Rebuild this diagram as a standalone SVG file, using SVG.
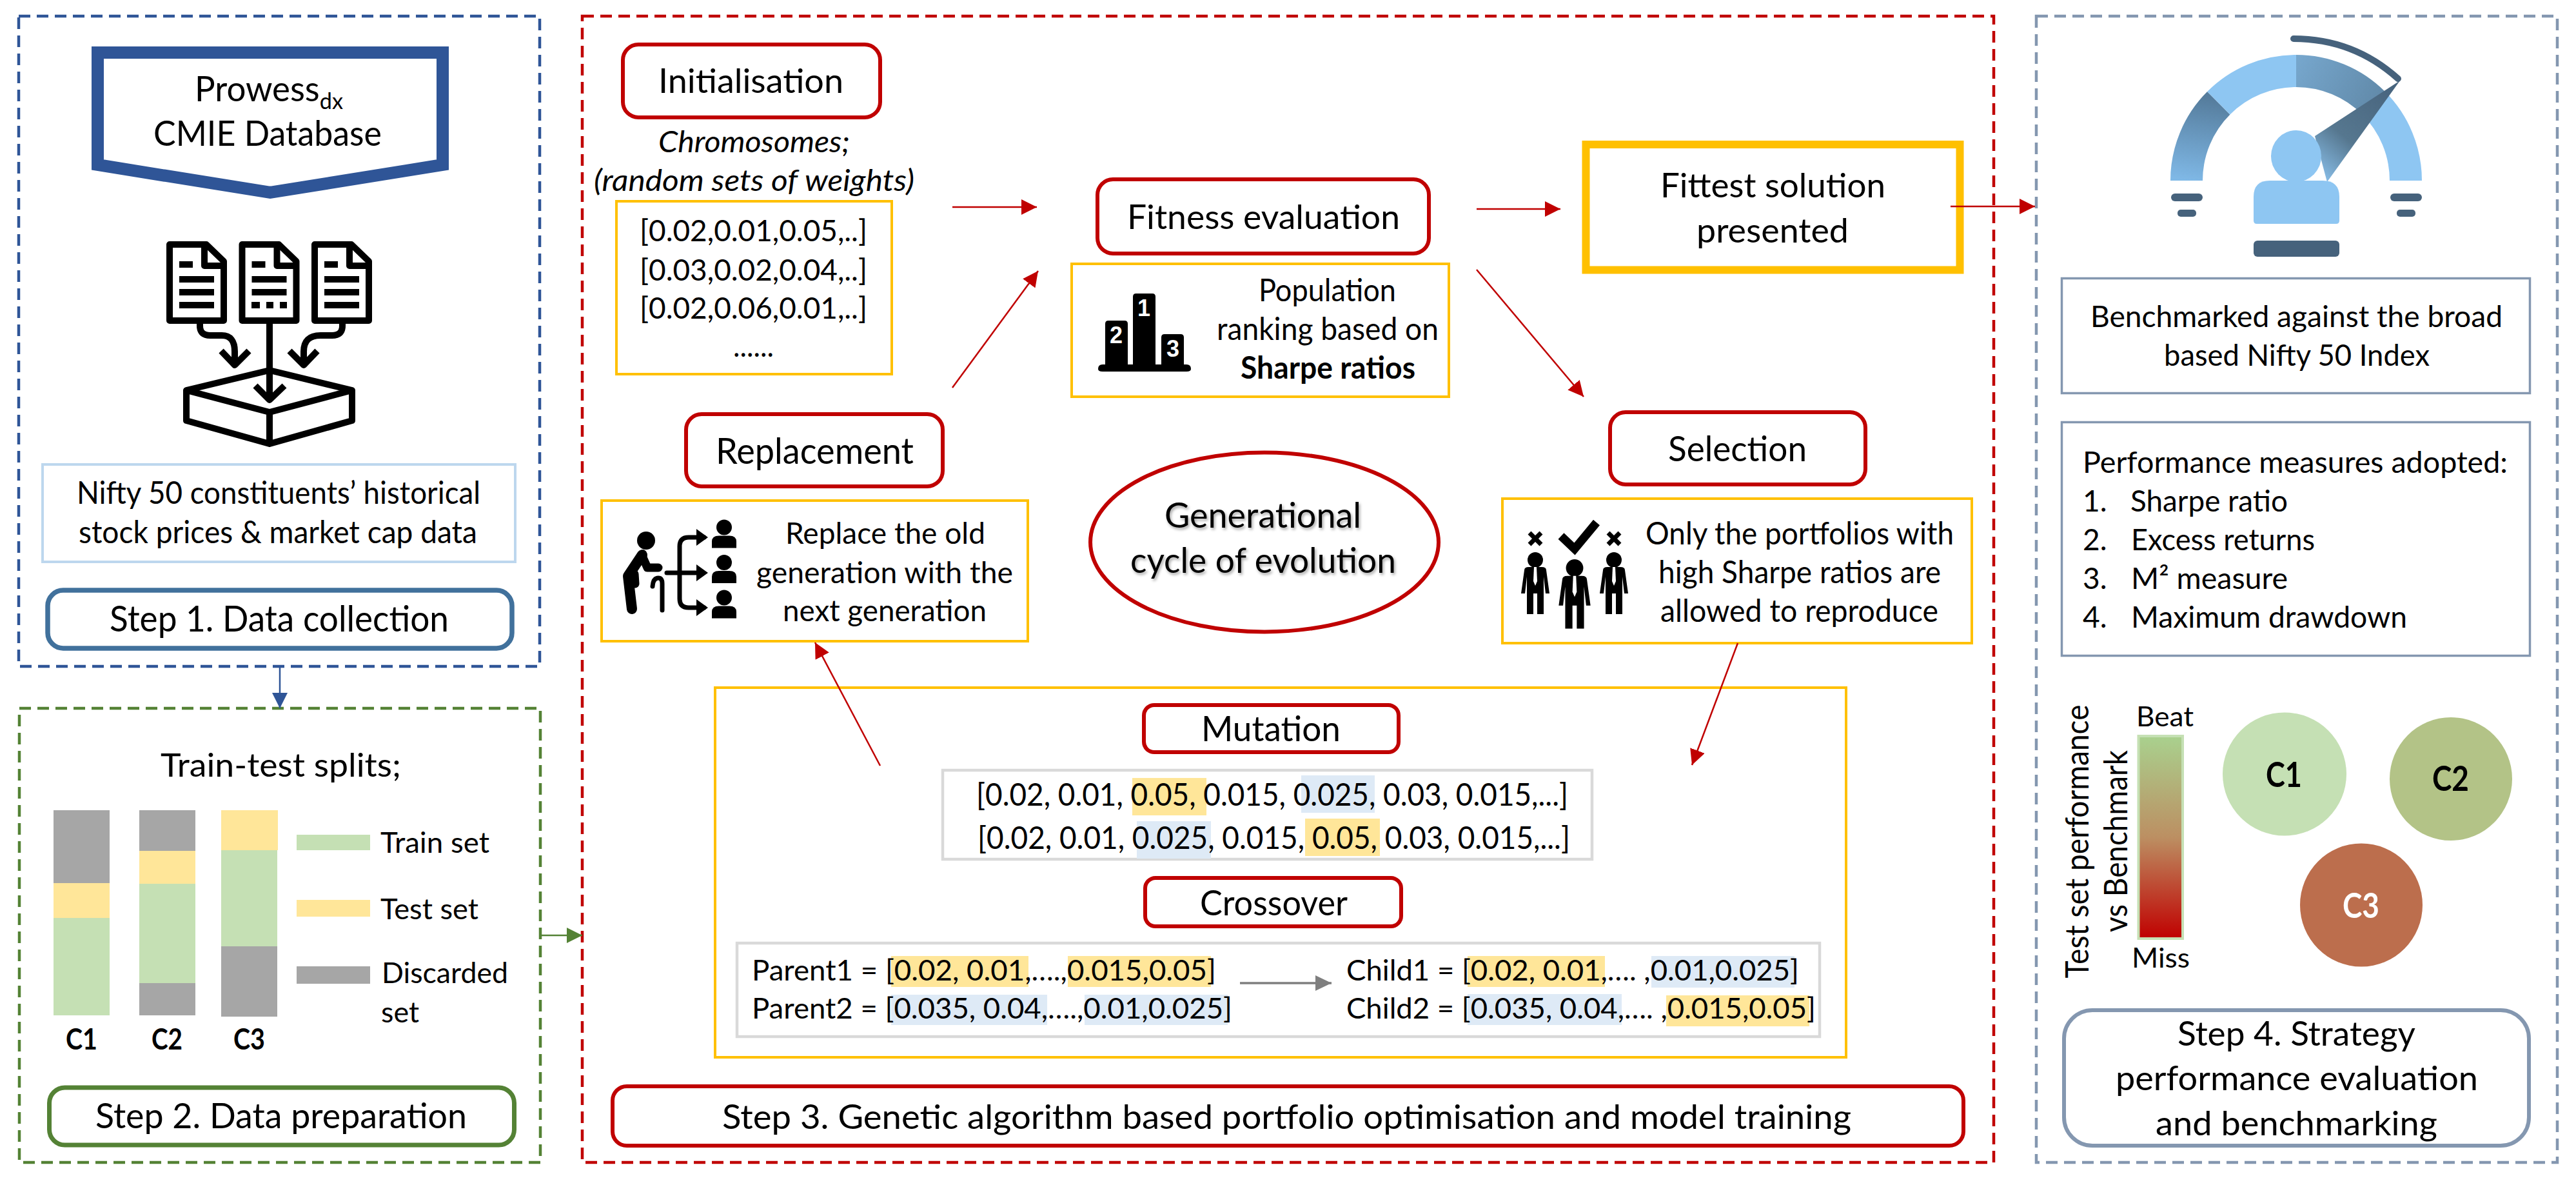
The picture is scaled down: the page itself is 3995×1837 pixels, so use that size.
<svg xmlns="http://www.w3.org/2000/svg" xmlns:xlink="http://www.w3.org/1999/xlink" width="3995" height="1837" viewBox="0 0 3995 1837">
<style>
text{font-family:"Lato","Open Sans","Liberation Sans",sans-serif;fill:#000}
.b{font-weight:700}
.i{font-style:italic}
.dash{fill:none;stroke-width:4.5;stroke-dasharray:18 10}
.step{fill:#fff}
.red{fill:#fff;stroke:#C00000;stroke-width:6}
.yb{fill:#fff;stroke:#FFC000;stroke-width:4}
.gb{fill:#fff;stroke:#D9D9D9;stroke-width:4.5}
.ln{fill:none;stroke-width:2.5}
.hy{fill:#FFE699}
.hb{fill:#DEEAF6}
.ic{fill:none;stroke:#000;stroke-width:10;stroke-linejoin:round}
.old{fill:none;stroke:#000;stroke-width:13;stroke-linecap:round;stroke-linejoin:round}
.lt{fill:#8EC6F2}
.dk{fill:#46627C}
</style>
<defs>
<marker id="hr" markerUnits="userSpaceOnUse" markerWidth="24" markerHeight="24" refX="24" refY="12" orient="auto"><path d="M0,0L24,12L0,24Z" fill="#C00000"/></marker>
<marker id="hbl" markerUnits="userSpaceOnUse" markerWidth="24" markerHeight="24" refX="24" refY="12" orient="auto"><path d="M0,0L24,12L0,24Z" fill="#2F5597"/></marker>
<marker id="hg" markerUnits="userSpaceOnUse" markerWidth="24" markerHeight="24" refX="24" refY="12" orient="auto"><path d="M0,0L24,12L0,24Z" fill="#548235"/></marker>
<marker id="hgr" markerUnits="userSpaceOnUse" markerWidth="25" markerHeight="24" refX="25" refY="12" orient="auto"><path d="M0,0L25,12L0,24Z" fill="#7F7F7F"/></marker>
<linearGradient id="bar" x1="0" y1="0" x2="0" y2="1"><stop offset="0" stop-color="#A9D18E"/><stop offset="0.5" stop-color="#BC8F62"/><stop offset="1" stop-color="#C00000"/></linearGradient>
<linearGradient id="gl" gradientUnits="userSpaceOnUse" x1="3420" y1="150" x2="3400" y2="280"><stop offset="0" stop-color="#557C9C"/><stop offset="1" stop-color="#7FB8E6"/></linearGradient>
<linearGradient id="gr" gradientUnits="userSpaceOnUse" x1="3561" y1="100" x2="3700" y2="170"><stop offset="0" stop-color="#76A6CC"/><stop offset="1" stop-color="#5F87A6"/></linearGradient>
<linearGradient id="gn" gradientUnits="userSpaceOnUse" x1="3722" y1="125" x2="3590" y2="280"><stop offset="0" stop-color="#46627C"/><stop offset="0.6" stop-color="#56778F"/><stop offset="1" stop-color="#8EC6F2"/></linearGradient>
<filter id="sh" x="-5%" y="-20%" width="110%" height="140%"><feDropShadow dx="2" dy="3" stdDeviation="2" flood-color="#000" flood-opacity="0.35"/></filter>
<g id="doc">
<path class="ic" d="M263,379H320L347,405V497H263Z"/>
<path class="ic" d="M317,379V412H347"/>
<path d="M278,405h21v10h-21zM278,428h54v10h-54zM278,448h54v10h-54z"/>
</g>
<g id="man">
<circle cx="0" cy="-38" r="12"/>
<path d="M-17,-22Q-17,-27 -10,-27H10Q17,-27 17,-22L22,14H16L13,-12V46H3V14H-3V46H-13V-12L-16,14H-22Z"/>
<path d="M-2,-27H2L3,-5L0,2L-3,-5Z" fill="#fff"/>
</g>
<g id="user">
<circle cx="0" cy="0" r="12"/>
<path d="M-19,32V22Q-19,13 -8,13H8Q19,13 19,22V32Z"/>
</g>
</defs>
<rect width="3995" height="1837" fill="#fff"/>

<g id="panel-frames">
<rect class="dash" x="29" y="25" width="808" height="1008" stroke="#2F5597"/>
<rect class="dash" x="30" y="1098" width="808" height="704" stroke="#548235"/>
<rect class="dash" x="903" y="25" width="2189" height="1777" stroke="#C00000"/>
<rect class="dash" x="3158" y="25" width="808" height="1777" stroke="#8497B0"/>
</g>

<g id="node-prowess">
<path d="M151.5,81.5H686.5V255.5L419,298.5L151.5,255.5Z" fill="#fff" stroke="#2F5597" stroke-width="19"/>
<text x="302" y="157" font-size="54" textLength="230" lengthAdjust="spacingAndGlyphs">Prowess<tspan dy="12" font-size="35">dx</tspan></text>
<text x="238" y="226" font-size="54" textLength="354" lengthAdjust="spacingAndGlyphs">CMIE Database</text>
</g>
<g id="icon-documents">
<use href="#doc"/>
<rect x="278" y="468" width="54" height="10"/>
<use href="#doc" x="112.5"/>
<path d="M390,468h13v10h-13zM413,468h11v10h-11zM434,468h11v10h-11z"/>
<use href="#doc" x="225"/>
<rect x="503" y="468" width="54" height="10"/>
<path class="ic" d="M310,502V505Q310,520 326,520H344Q364,520 364,545V566"/>
<path class="ic" d="M343,544L364,566L386,544"/>
<path class="ic" d="M531,502V505Q531,520 515,520H497Q471,520 471,545V566"/>
<path class="ic" d="M449,544L471,566L492,544"/>
<path class="ic" d="M418,502V620"/>
<path class="ic" d="M396,598L418,620L441,598"/>
<path class="ic" d="M418,574L546,605L418,639L289,605Z"/>
<path class="ic" d="M289,605V652L418,688L546,652V605M418,639V688"/>
</g>
<g id="node-nifty">
<rect x="66" y="720" width="733" height="151" fill="#fff" stroke="#BDD7EE" stroke-width="4"/>
<text x="119" y="781" font-size="49" textLength="626" lengthAdjust="spacingAndGlyphs">Nifty 50 constituents’ historical</text>
<text x="122" y="842" font-size="49" textLength="618" lengthAdjust="spacingAndGlyphs">stock prices &amp; market cap data</text>
</g>
<g id="node-step1">
<rect class="step" x="74" y="915" width="720" height="90" rx="24" stroke="#41719C" stroke-width="7.5"/>
<text x="170" y="979" font-size="56" textLength="526" lengthAdjust="spacingAndGlyphs">Step 1. Data collection</text>
</g>

<g id="node-splits">
<text x="249" y="1204" font-size="51" textLength="373" lengthAdjust="spacingAndGlyphs">Train-test splits;</text>
<rect x="83" y="1256" width="87" height="113" fill="#A6A6A6"/><rect x="83" y="1369" width="87" height="54" fill="#FFE699"/><rect x="83" y="1423" width="87" height="151" fill="#C5E0B4"/>
<rect x="216" y="1256" width="87" height="63" fill="#A6A6A6"/><rect x="216" y="1319" width="87" height="51" fill="#FFE699"/><rect x="216" y="1370" width="87" height="154" fill="#C5E0B4"/><rect x="216" y="1524" width="87" height="50" fill="#A6A6A6"/>
<rect x="343" y="1256" width="88" height="62" fill="#FFE699"/><rect x="343" y="1318" width="87" height="149" fill="#C5E0B4"/><rect x="343" y="1467" width="87" height="109" fill="#A6A6A6"/>
<rect x="460" y="1294" width="114" height="24" fill="#C5E0B4"/><rect x="460" y="1395" width="114" height="26" fill="#FFE699"/><rect x="460" y="1498" width="114" height="27" fill="#A6A6A6"/>
<text x="590" y="1322" font-size="44" textLength="169" lengthAdjust="spacingAndGlyphs">Train set</text>
<text x="590" y="1425" font-size="44" textLength="152" lengthAdjust="spacingAndGlyphs">Test set</text>
<text x="592" y="1524" font-size="44" textLength="196" lengthAdjust="spacingAndGlyphs">Discarded</text>
<text x="591" y="1585" font-size="44" textLength="59" lengthAdjust="spacingAndGlyphs">set</text>
<text class="b" x="102" y="1627" font-size="46" textLength="49" lengthAdjust="spacingAndGlyphs">C1</text>
<text class="b" x="235" y="1627" font-size="46" textLength="48" lengthAdjust="spacingAndGlyphs">C2</text>
<text class="b" x="362" y="1627" font-size="46" textLength="49" lengthAdjust="spacingAndGlyphs">C3</text>
</g>
<g id="node-step2">
<rect class="step" x="76.5" y="1686" width="721" height="89" rx="24" stroke="#548235" stroke-width="7"/>
<text x="148" y="1749" font-size="54" textLength="576" lengthAdjust="spacingAndGlyphs">Step 2. Data preparation</text>
</g>

<g id="node-initialisation">
<rect class="red" x="966" y="69" width="399" height="113" rx="24"/>
<text x="1021" y="144" font-size="53" textLength="287" lengthAdjust="spacingAndGlyphs">Initialisation</text>
<text class="i" x="1021" y="236" font-size="46" textLength="297" lengthAdjust="spacingAndGlyphs">Chromosomes;</text>
<text class="i" x="921" y="296" font-size="46" textLength="497" lengthAdjust="spacingAndGlyphs">(random sets of weights)</text>
<rect class="yb" x="956" y="312" width="427" height="268"/>
<text x="992" y="374" font-size="47" textLength="353" lengthAdjust="spacingAndGlyphs">[0.02,0.01,0.05,..]</text>
<text x="992" y="435" font-size="47" textLength="353" lengthAdjust="spacingAndGlyphs">[0.03,0.02,0.04,..]</text>
<text x="992" y="494" font-size="47" textLength="353" lengthAdjust="spacingAndGlyphs">[0.02,0.06,0.01,..]</text>
<text x="1137" y="553" font-size="47" textLength="63" lengthAdjust="spacingAndGlyphs">......</text>
</g>
<g id="node-fitness">
<rect class="red" x="1702" y="278" width="514" height="115" rx="24"/>
<text x="1748" y="355" font-size="52" textLength="423" lengthAdjust="spacingAndGlyphs">Fitness evaluation</text>
<rect class="yb" x="1662" y="409" width="585" height="206"/>
<path d="M1703,572Q1703,565 1710,565H1714V502Q1714,497 1719,497H1744Q1749,497 1749,502V565H1757V460Q1757,455 1762,455H1787Q1792,455 1792,460V565H1801V523Q1801,518 1806,518H1831Q1836,518 1836,523V565H1840Q1847,565 1847,572Q1847,576 1840,576H1710Q1703,576 1703,572Z"/>
<text class="b" x="1774" y="490" font-size="36" text-anchor="middle" style="fill:#fff;font-family:'Liberation Sans',sans-serif">1</text>
<text class="b" x="1731" y="532" font-size="36" text-anchor="middle" style="fill:#fff;font-family:'Liberation Sans',sans-serif">2</text>
<text class="b" x="1819" y="553" font-size="36" text-anchor="middle" style="fill:#fff;font-family:'Liberation Sans',sans-serif">3</text>
<text x="1952" y="467" font-size="48" textLength="213" lengthAdjust="spacingAndGlyphs">Population</text>
<text x="1887" y="527" font-size="48" textLength="344" lengthAdjust="spacingAndGlyphs">ranking based on</text>
<text class="b" x="1924" y="587" font-size="48" textLength="271" lengthAdjust="spacingAndGlyphs">Sharpe ratios</text>
</g>
<g id="node-fittest">
<rect x="2459.5" y="224" width="580" height="194.5" fill="#fff" stroke="#FFC000" stroke-width="12"/>
<text x="2575" y="306" font-size="53" textLength="349" lengthAdjust="spacingAndGlyphs">Fittest solution</text>
<text x="2631" y="376" font-size="53" textLength="236" lengthAdjust="spacingAndGlyphs">presented</text>
</g>
<g id="node-replacement">
<rect class="red" x="1064" y="642" width="398" height="112" rx="24"/>
<text x="1110" y="719" font-size="56" textLength="307" lengthAdjust="spacingAndGlyphs">Replacement</text>
<rect class="yb" x="933" y="776" width="661" height="218"/>
<circle cx="1002" cy="838" r="14"/>
<path class="old" style="stroke-width:16" d="M996,860L974,893L980,944"/>
<path class="old" d="M996,862L1004,880H1021M984,890L985,905"/>
<path class="old" style="stroke-width:7" d="M1012,909Q1013,896 1021,896Q1027,896 1027,905V946"/>
<path class="old" style="stroke-width:7" d="M1034,888H1086M1092,833H1068Q1054,833 1054,847V928Q1054,942 1068,942H1092"/>
<path d="M1080,820L1098,833L1080,846ZM1080,875L1098,888L1080,901ZM1080,929L1098,942L1080,955Z"/>
<use href="#user" x="1123" y="817.5"/><use href="#user" x="1123" y="872"/><use href="#user" x="1123" y="926.5"/>
<text x="1218" y="843" font-size="47" textLength="310" lengthAdjust="spacingAndGlyphs">Replace the old</text>
<text x="1173" y="904" font-size="47" textLength="398" lengthAdjust="spacingAndGlyphs">generation with the</text>
<text x="1214" y="963" font-size="47" textLength="316" lengthAdjust="spacingAndGlyphs">next generation</text>
</g>
<g id="node-cycle">
<ellipse cx="1961" cy="840.5" rx="270" ry="139" fill="#fff" stroke="#C00000" stroke-width="6"/>
<text filter="url(#sh)" x="1806" y="818" font-size="54" textLength="305" lengthAdjust="spacingAndGlyphs">Generational</text>
<text filter="url(#sh)" x="1753" y="888" font-size="54" textLength="412" lengthAdjust="spacingAndGlyphs">cycle of evolution</text>
</g>
<g id="node-selection">
<rect class="red" x="2497" y="639" width="396" height="112" rx="24"/>
<text x="2587" y="715" font-size="55" textLength="215" lengthAdjust="spacingAndGlyphs">Selection</text>
<rect class="yb" x="2330" y="773" width="728" height="224"/>
<use href="#man" x="2381" y="906"/>
<use href="#man" transform="translate(2442 923) scale(1.12)"/>
<use href="#man" x="2503" y="906"/>
<path d="M2372,826l9,9l9,-9M2372,844l9,-9l9,9" fill="none" stroke="#000" stroke-width="7"/>
<path d="M2494,826l9,9l9,-9M2494,844l9,-9l9,9" fill="none" stroke="#000" stroke-width="7"/>
<path d="M2421,831L2442,851L2476,810" fill="none" stroke="#000" stroke-width="13"/>
<text x="2552" y="844" font-size="48" textLength="478" lengthAdjust="spacingAndGlyphs">Only the portfolios with</text>
<text x="2572" y="904" font-size="48" textLength="438" lengthAdjust="spacingAndGlyphs">high Sharpe ratios are</text>
<text x="2575" y="964" font-size="48" textLength="431" lengthAdjust="spacingAndGlyphs">allowed to reproduce</text>
</g>
<g id="node-operators">
<rect class="yb" x="1109" y="1066" width="1754" height="573"/>
<rect class="red" x="1774" y="1093" width="395" height="73" rx="16"/>
<text x="1863" y="1149" font-size="54" textLength="216" lengthAdjust="spacingAndGlyphs">Mutation</text>
<rect class="gb" x="1462" y="1194" width="1007" height="138"/>
<rect class="hy" x="1756" y="1206" width="115" height="58"/><rect class="hb" x="2018" y="1202" width="114" height="58"/>
<rect class="hb" x="1763" y="1273" width="115" height="58"/><rect class="hy" x="2024" y="1269" width="116" height="58"/>
<text x="1514" y="1249" font-size="48" textLength="918" lengthAdjust="spacingAndGlyphs">[0.02, 0.01, 0.05, 0.015, 0.025, 0.03, 0.015,...]</text>
<text x="1516" y="1316" font-size="48" textLength="919" lengthAdjust="spacingAndGlyphs">[0.02, 0.01, 0.025, 0.015, 0.05, 0.03, 0.015,...]</text>
<rect class="red" x="1776" y="1361" width="397" height="75" rx="16"/>
<text x="1861" y="1419" font-size="54" textLength="229" lengthAdjust="spacingAndGlyphs">Crossover</text>
<rect class="gb" x="1143" y="1462" width="1679" height="145"/>
<rect class="hy" x="1382" y="1482" width="213" height="48"/><rect class="hy" x="1656" y="1482" width="222" height="48"/>
<rect class="hb" x="1382" y="1542" width="242" height="47"/><rect class="hb" x="1682" y="1542" width="222" height="47"/>
<rect class="hy" x="2276" y="1482" width="213" height="48"/><rect class="hb" x="2561" y="1482" width="222" height="49"/>
<rect class="hb" x="2276" y="1541" width="239" height="48"/><rect class="hy" x="2584" y="1543" width="222" height="48"/>
<text x="1166" y="1520" font-size="45" textLength="720" lengthAdjust="spacingAndGlyphs">Parent1 = [0.02, 0.01,….,0.015,0.05]</text>
<text x="1166" y="1579" font-size="45" textLength="745" lengthAdjust="spacingAndGlyphs">Parent2 = [0.035, 0.04,….,0.01,0.025]</text>
<text x="2088" y="1520" font-size="45" textLength="702" lengthAdjust="spacingAndGlyphs">Child1 = [0.02, 0.01,…. ,0.01,0.025]</text>
<text x="2088" y="1579" font-size="45" textLength="728" lengthAdjust="spacingAndGlyphs">Child2 = [0.035, 0.04,…. ,0.015,0.05]</text>
</g>
<g id="node-step3">
<rect class="red" x="950" y="1684" width="2095" height="92" rx="22"/>
<text x="1120" y="1750" font-size="52" textLength="1751" lengthAdjust="spacingAndGlyphs">Step 3. Genetic algorithm based portfolio optimisation and model training</text>
</g>

<g id="icon-gauge">
<path d="M3391,280A170,170 0 0 1 3440.8,159.8" fill="none" stroke="url(#gl)" stroke-width="50"/>
<path d="M3440.8,159.8A170,170 0 0 1 3561,110" fill="none" stroke="#8EC6F2" stroke-width="50"/>
<path d="M3681.2,159.8A170,170 0 0 1 3731,280" fill="none" stroke="#8EC6F2" stroke-width="50"/>
<path d="M3561,110A170,170 0 0 1 3681.2,159.8" fill="none" stroke="url(#gr)" stroke-width="50"/>
<path d="M3557,60Q3650,60 3719,122" fill="none" stroke="#46627C" stroke-width="10" stroke-linecap="round"/>
<path d="M3722,125L3590,211L3609,282Z" fill="url(#gn)"/>
<ellipse class="lt" cx="3561" cy="242" rx="39" ry="40"/>
<path class="lt" d="M3495,342V305Q3495,280 3520,280H3602Q3628,280 3628,305V342Q3628,347 3623,347H3500Q3495,347 3495,342Z"/>
<rect class="dk" x="3495" y="373" width="133" height="25" rx="6"/>
<rect class="dk" x="3367" y="300" width="49" height="12" rx="6"/><rect class="dk" x="3377" y="325" width="29" height="11" rx="5"/>
<rect class="dk" x="3707" y="300" width="49" height="12" rx="6"/><rect class="dk" x="3717" y="325" width="29" height="11" rx="5"/>
</g>
<g id="node-benchmark">
<rect x="3197.5" y="431.5" width="726" height="178" fill="#fff" stroke="#8497B0" stroke-width="3.5"/>
<text x="3242" y="507" font-size="46" textLength="639" lengthAdjust="spacingAndGlyphs">Benchmarked against the broad</text>
<text x="3356" y="567" font-size="46" textLength="412" lengthAdjust="spacingAndGlyphs">based Nifty 50 Index</text>
</g>
<g id="node-measures">
<rect x="3197.5" y="654.5" width="726" height="362" fill="#fff" stroke="#8497B0" stroke-width="3.5"/>
<text x="3230" y="733" font-size="46" textLength="659" lengthAdjust="spacingAndGlyphs">Performance measures adopted:</text>
<text x="3230" y="793" font-size="46">1.</text><text x="3304" y="793" font-size="46" textLength="244" lengthAdjust="spacingAndGlyphs">Sharpe ratio</text>
<text x="3230" y="853" font-size="46">2.</text><text x="3305" y="853" font-size="46" textLength="285" lengthAdjust="spacingAndGlyphs">Excess returns</text>
<text x="3230" y="913" font-size="46">3.</text><text x="3305" y="913" font-size="46" textLength="243" lengthAdjust="spacingAndGlyphs">M² measure</text>
<text x="3230" y="973" font-size="46">4.</text><text x="3305" y="973" font-size="46" textLength="428" lengthAdjust="spacingAndGlyphs">Maximum drawdown</text>
</g>
<g id="node-legend">
<text transform="translate(3239 1516.5) rotate(-90)" font-size="50" textLength="424" lengthAdjust="spacingAndGlyphs">Test set performance</text>
<text transform="translate(3299 1445) rotate(-90)" font-size="50" textLength="282" lengthAdjust="spacingAndGlyphs">vs Benchmark</text>
<rect x="3316.5" y="1141" width="68.5" height="314" fill="url(#bar)" stroke="#C5E0B4" stroke-width="4"/>
<text x="3313" y="1126" font-size="43" textLength="89" lengthAdjust="spacingAndGlyphs">Beat</text>
<text x="3306" y="1500" font-size="43" textLength="90" lengthAdjust="spacingAndGlyphs">Miss</text>
</g>
<g id="node-c1"><ellipse cx="3543" cy="1200" rx="96" ry="95.5" fill="#C5E0B4"/><text class="b" x="3514" y="1220" font-size="54" textLength="56" lengthAdjust="spacingAndGlyphs">C1</text></g>
<g id="node-c2"><ellipse cx="3801" cy="1207.5" rx="95" ry="95.5" fill="#B3C387"/><text class="b" x="3772" y="1226" font-size="54" textLength="57" lengthAdjust="spacingAndGlyphs">C2</text></g>
<g id="node-c3"><ellipse cx="3662" cy="1403" rx="95" ry="95.5" fill="#BC6E4D"/><text class="b" x="3633" y="1423" font-size="54" textLength="57" lengthAdjust="spacingAndGlyphs" style="fill:#fff">C3</text></g>
<g id="node-step4">
<rect class="step" x="3201" y="1566" width="721" height="210" rx="44" stroke="#8497B0" stroke-width="6"/>
<text x="3377" y="1621" font-size="52" textLength="369" lengthAdjust="spacingAndGlyphs">Step 4. Strategy</text>
<text x="3281" y="1690" font-size="52" textLength="562" lengthAdjust="spacingAndGlyphs">performance evaluation</text>
<text x="3343" y="1760" font-size="52" textLength="437" lengthAdjust="spacingAndGlyphs">and benchmarking</text>
</g>

<g id="connectors">
<line class="ln" x1="434" y1="1033" x2="434" y2="1098" stroke="#2F5597" marker-end="url(#hbl)"/>
<line class="ln" x1="838" y1="1450" x2="903" y2="1450" stroke="#548235" marker-end="url(#hg)"/>
<line class="ln" x1="1477" y1="321" x2="1608" y2="321" stroke="#C00000" marker-end="url(#hr)"/>
<line class="ln" x1="1477" y1="601" x2="1610" y2="420" stroke="#C00000" marker-end="url(#hr)"/>
<line class="ln" x1="2290" y1="324" x2="2420" y2="324" stroke="#C00000" marker-end="url(#hr)"/>
<line class="ln" x1="2290" y1="418" x2="2456" y2="615" stroke="#C00000" marker-end="url(#hr)"/>
<line class="ln" x1="3025" y1="320" x2="3156" y2="320" stroke="#C00000" marker-end="url(#hr)"/>
<line class="ln" x1="2695" y1="997" x2="2624" y2="1186" stroke="#C00000" marker-end="url(#hr)"/>
<line class="ln" x1="1365" y1="1187" x2="1264" y2="996" stroke="#C00000" marker-end="url(#hr)"/>
<line class="ln" style="stroke-width:3.5" x1="1923" y1="1524" x2="2065" y2="1524" stroke="#7F7F7F" marker-end="url(#hgr)"/>
</g>
</svg>
